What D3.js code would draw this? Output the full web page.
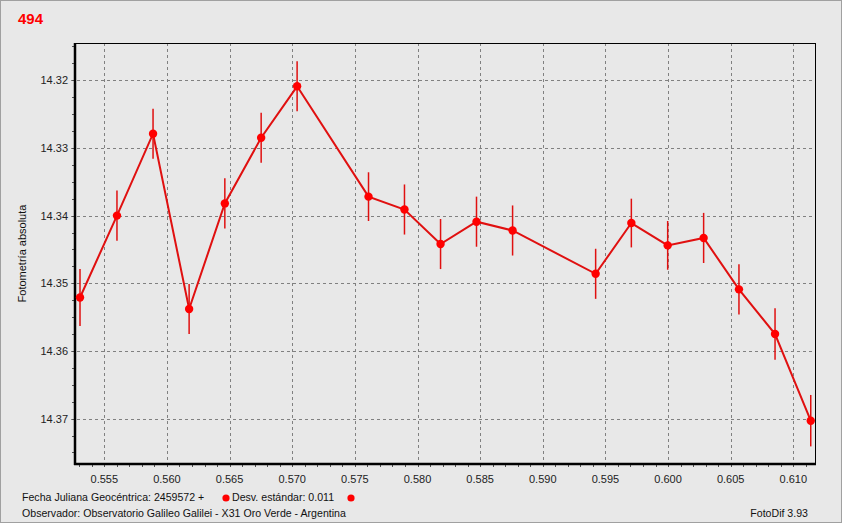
<!DOCTYPE html>
<html><head><meta charset="utf-8">
<script src="https://cdn.jsdelivr.net/npm/d3@7"></script>
<style>
html,body{margin:0;padding:0;background:#fff;}
svg{display:block;font-family:"Liberation Sans",Arial,sans-serif;}
</style></head>
<body>
<svg id="c" width="843" height="525"></svg>
<script>
const title = "494";
const jd = [0.55306, 0.55601, 0.55889, 0.56177, 0.56462, 0.56752, 0.57039, 0.57609, 0.57896, 0.58184, 0.58471, 0.58759, 0.59422, 0.59707, 0.59997, 0.60284, 0.60566, 0.60854, 0.61139];
const mag = [14.3521, 14.3400, 14.3279, 14.3538, 14.3382, 14.3285, 14.3209, 14.3372, 14.3391, 14.3442, 14.3409, 14.3422, 14.3486, 14.3411, 14.3444, 14.3433, 14.3509, 14.3575, 14.3703];
const err = [0.0042, 0.0037, 0.0037, 0.0037, 0.0037, 0.0037, 0.0037, 0.0036, 0.0037, 0.0037, 0.0037, 0.0037, 0.0037, 0.0036, 0.0036, 0.0037, 0.0037, 0.0038, 0.0038];
const xTicks = [0.555, 0.560, 0.565, 0.570, 0.575, 0.580, 0.585, 0.590, 0.595, 0.600, 0.605, 0.610];
const yTicks = [14.32, 14.33, 14.34, 14.35, 14.36, 14.37];
const yLabel = "Fotometría absoluta";
const footer1 = "Fecha Juliana Geocéntrica: 2459572 +";
const footer2 = "Desv. estándar: 0.011";
const footer3 = "Observador: Observatorio Galileo Galilei - X31 Oro Verde - Argentina";
const footer4 = "FotoDif 3.93";

const svg = d3.select("#c");
const L = 75, T = 43, R = 815, B = 464;
const x = d3.scaleLinear().domain([0.55266, 0.61173]).range([L, R]);
const y = d3.scaleLinear().domain([14.3145, 14.3767]).range([T, B]);

svg.append("rect").attr("x",0.5).attr("y",0.5).attr("width",841).attr("height",522)
  .attr("fill","#e8e8e8").attr("stroke","#a0a0a0");

// grid
const g = svg.append("g");
g.selectAll(".gx").data(xTicks).join("line")
  .attr("x1",d=>Math.round(x(d))+0.5).attr("x2",d=>Math.round(x(d))+0.5)
  .attr("y1",T).attr("y2",B+4)
  .attr("stroke","#808080").attr("stroke-dasharray","3,3");
g.selectAll(".gy").data(yTicks).join("line")
  .attr("y1",d=>Math.round(y(d))+0.5).attr("y2",d=>Math.round(y(d))+0.5)
  .attr("x1",L-4).attr("x2",R)
  .attr("stroke","#808080").attr("stroke-dasharray","3,3");

// minor ticks
const xMinor = d3.range(553, 612).map(v=>v/1000).filter(v=>x(v)>L+1 && x(v)<R);
g.selectAll(".mx").data(xMinor).join("line")
  .attr("x1",d=>Math.round(x(d))+0.5).attr("x2",d=>Math.round(x(d))+0.5)
  .attr("y1",B+1).attr("y2",B+3).attr("stroke","#555");
const yMinor = d3.range(0, 26).map(i=>14.315+i*0.0025).filter(v=>y(v)>T+1 && y(v)<B-1);
g.selectAll(".my").data(yMinor).join("line")
  .attr("y1",d=>Math.round(y(d))+0.5).attr("y2",d=>Math.round(y(d))+0.5)
  .attr("x1",L-3).attr("x2",L-1).attr("stroke","#555");

// axes frame
svg.append("line").attr("x1",L).attr("x2",R+0.5).attr("y1",T+0.5).attr("y2",T+0.5).attr("stroke","#000");
svg.append("line").attr("x1",R+0.5).attr("x2",R+0.5).attr("y1",T).attr("y2",B).attr("stroke","#000");
svg.append("line").attr("x1",L).attr("x2",L).attr("y1",T).attr("y2",B+1).attr("stroke","#000").attr("stroke-width",2.5);
svg.append("line").attr("x1",L-1).attr("x2",R+1).attr("y1",B).attr("y2",B).attr("stroke","#000").attr("stroke-width",2.5);

// tick labels
svg.selectAll(".xl").data(xTicks).join("text")
  .attr("x",d=>x(d)).attr("y",B+19).attr("text-anchor","middle")
  .attr("font-size","11px").attr("fill","#222").text(d=>d3.format(".3f")(d));
svg.selectAll(".yl").data(yTicks).join("text")
  .attr("x",L-7).attr("y",d=>y(d)+4).attr("text-anchor","end")
  .attr("font-size","11px").attr("fill","#222").text(d=>d3.format(".2f")(d));

svg.append("text").attr("transform",`translate(26,${(T+B)/2}) rotate(-90)`)
  .attr("text-anchor","middle").attr("font-size","11px").attr("fill","#111").text(yLabel);

svg.append("text").attr("x",18).attr("y",24).attr("font-size","15px").attr("font-weight","bold")
  .attr("fill","#ff0000").text(title);

// data
const pts = jd.map((d,i)=>({x:d, y:mag[i], e:err[i]}));
svg.selectAll(".eb").data(pts).join("line")
  .attr("x1",d=>x(d.x)).attr("x2",d=>x(d.x))
  .attr("y1",d=>y(d.y-d.e)).attr("y2",d=>y(d.y+d.e))
  .attr("stroke","#e01010").attr("stroke-width",1.5);
svg.append("path").datum(pts)
  .attr("d",d3.line().x(d=>x(d.x)).y(d=>y(d.y)))
  .attr("fill","none").attr("stroke","#e01010").attr("stroke-width",2);
svg.selectAll(".pt").data(pts).join("circle")
  .attr("cx",d=>x(d.x)).attr("cy",d=>y(d.y)).attr("r",4.2).attr("fill","#ff0000");

// footer
svg.append("text").attr("x",22).attr("y",501).attr("font-size","10.6px").attr("fill","#111").text(footer1);
svg.append("circle").attr("cx",226).attr("cy",498).attr("r",3.6).attr("fill","#ff0000");
svg.append("text").attr("x",232).attr("y",501).attr("font-size","10.6px").attr("fill","#111").text(footer2);
svg.append("circle").attr("cx",351).attr("cy",498).attr("r",3.6).attr("fill","#ff0000");
svg.append("text").attr("x",22).attr("y",517).attr("font-size","10.6px").attr("fill","#111").text(footer3);
svg.append("text").attr("x",808).attr("y",517).attr("text-anchor","end").attr("font-size","10.6px").attr("fill","#111").text(footer4);
</script>
</body></html>
